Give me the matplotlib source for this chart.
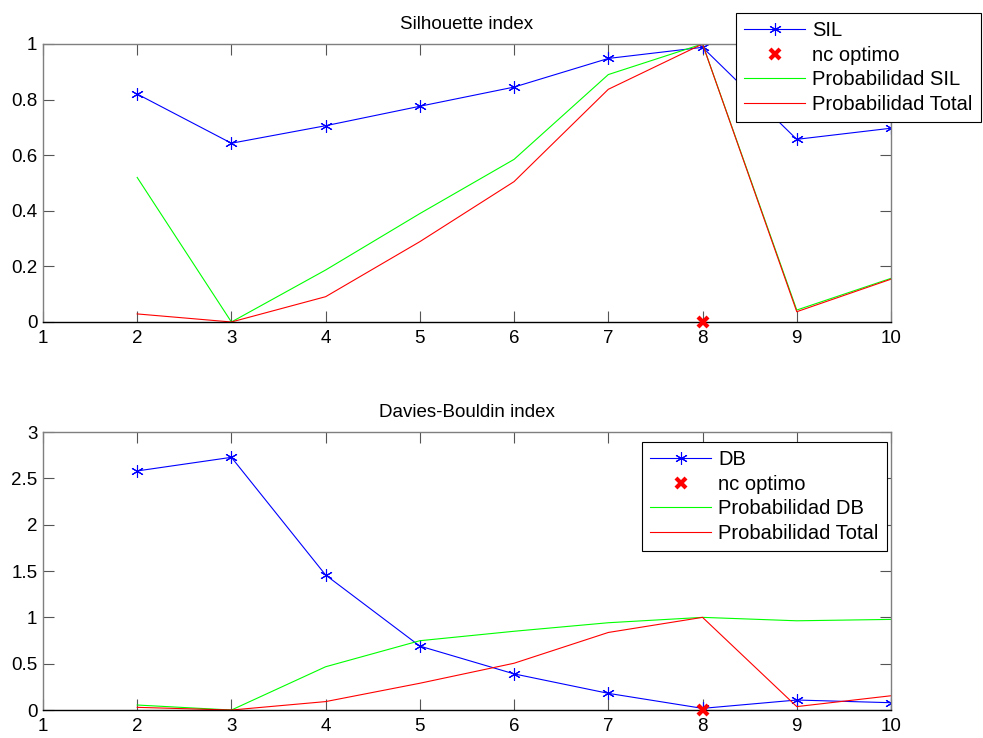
import matplotlib
matplotlib.use('Agg')
import matplotlib.pyplot as plt

plt.rcParams['font.family'] = ['Liberation Sans', 'DejaVu Sans']
plt.rcParams['font.size'] = 13.5

nc = [2, 3, 4, 5, 6, 7, 8, 9, 10]
sil = [0.82, 0.643, 0.706, 0.776, 0.845, 0.948, 0.988, 0.657, 0.697]
prob_sil = [0.52, 0.0, 0.187, 0.39, 0.585, 0.89, 1.0, 0.043, 0.157]
db = [2.58, 2.727, 1.457, 0.69, 0.39, 0.18, 0.018, 0.108, 0.079]
prob_db = [0.054, 0.0, 0.467, 0.748, 0.85, 0.942, 1.0, 0.963, 0.978]
prob_total = [0.029, 0.0, 0.091, 0.289, 0.505, 0.837, 1.0, 0.037, 0.154]
nc_opt = 8

fig = plt.figure(figsize=(9.83, 7.38), dpi=100)
ax1 = fig.add_axes([0.0437, 0.5637, 0.8627, 0.3767])
ax2 = fig.add_axes([0.0437, 0.0379, 0.8627, 0.3767])

star = (6, 2, 0)


def style(ax, yticks, ylim):
    ax.set_xlim(1, 10)
    ax.set_ylim(*ylim)
    ax.set_xticks(range(1, 11))
    ax.set_yticks(yticks)
    ax.set_yticklabels([('%g' % t) for t in yticks])
    ax.tick_params(direction='in', length=8, width=0.8, top=True, right=True,
                   colors='#555555', labelcolor='black')
    ax.tick_params(axis='x', pad=6)
    ax.tick_params(axis='y', pad=4)
    for s in ['left', 'top', 'right']:
        ax.spines[s].set_color('#7f7f7f')
        ax.spines[s].set_linewidth(1.0)
    ax.spines['bottom'].set_color('black')
    ax.spines['bottom'].set_linewidth(1.0)


def legend(ax, anchor):
    leg = ax.legend(loc='upper right', bbox_to_anchor=anchor, borderaxespad=0,
                    fancybox=False, framealpha=1, edgecolor='black', fontsize=14.5,
                    handlelength=3.05, handletextpad=0.35, labelspacing=0.28,
                    borderpad=0.4)
    leg.get_frame().set_linewidth(0.8)


# Silhouette
ax1.plot(nc, sil, color='#0000ff', lw=0.8, marker=star, ms=9, mew=0.8, label='SIL')
ax1.plot([nc_opt], [0], ls='none', marker='x', color='#ff0000', ms=7, mew=3,
         clip_on=False, label='nc optimo', zorder=5)
ax1.plot(nc, prob_sil, color='#00ff00', lw=0.8, label='Probabilidad SIL')
ax1.plot(nc, prob_total, color='#ff0000', lw=0.8, label='Probabilidad Total')
style(ax1, [0, 0.2, 0.4, 0.6, 0.8, 1], (0, 1))
ax1.set_title('Silhouette index', fontsize=13.5, pad=11)
legend(ax1, (1.106, 1.111))

# Davies-Bouldin
ax2.plot(nc, db, color='#0000ff', lw=0.8, marker=star, ms=9, mew=0.8, label='DB')
ax2.plot([nc_opt], [0], ls='none', marker='x', color='#ff0000', ms=7, mew=3,
         clip_on=False, label='nc optimo', zorder=5)
ax2.plot(nc, prob_db, color='#00ff00', lw=0.8, label='Probabilidad DB')
ax2.plot(nc, prob_total, color='#ff0000', lw=0.8, label='Probabilidad Total')
style(ax2, [0, 0.5, 1, 1.5, 2, 2.5, 3], (0, 3))
ax2.set_title('Davies-Bouldin index', fontsize=13.5, pad=11)
legend(ax2, (0.995, 0.964))

fig.savefig('out.png', dpi=100)
